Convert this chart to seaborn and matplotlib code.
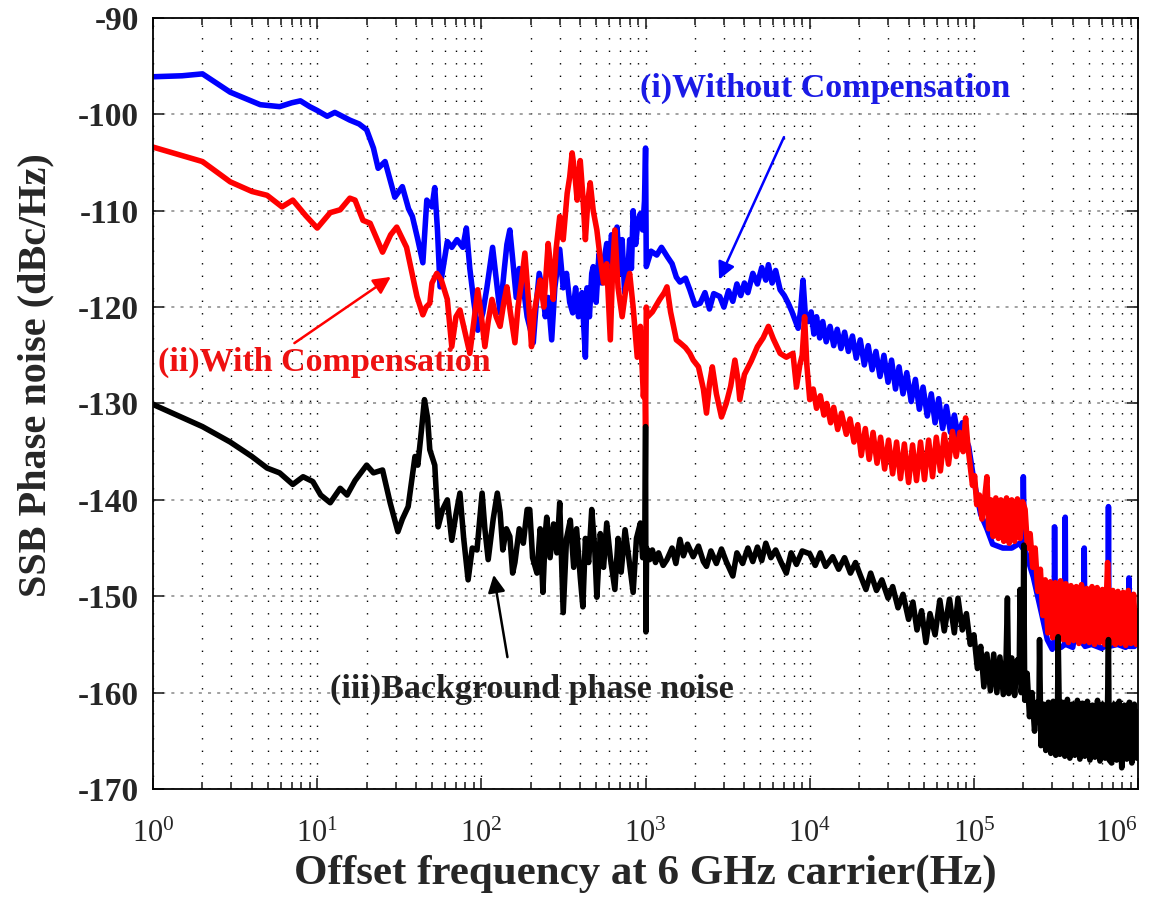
import matplotlib
matplotlib.use('Agg')
import matplotlib.pyplot as plt
import seaborn as sns
from matplotlib.ticker import LogLocator, LogFormatterMathtext, MultipleLocator

# ── Datos: pares (frecuencia Hz, ruido dBc/Hz) ──
puntos_sin = [
    (1, -96.1), (1.5, -96.0), (2, -95.8), (2.95, -97.7), (4.5, -99.0), (5.9, -99.2), (7.0, -98.8),
    (7.9, -98.6), (9.0, -99.2), (10, -99.6), (11.5, -100.2), (12.8, -99.8), (15.8, -100.6),
    (18, -101.0), (20, -101.6), (22, -103.5), (23.5, -105.6), (25.9, -104.9), (29.7, -108.6),
    (33, -107.5), (36, -109.8), (38, -110.6), (41, -113), (44, -115.4), (46.5, -108.9),
    (50, -109.6), (52, -107.6), (54, -112), (56, -117.9), (62, -113.2), (66, -113.8), (71, -113),
    (77, -113.8), (81, -111.8), (85, -116), (90, -119.5), (95, -122.4), (102, -120.6), (108, -118),
    (117, -113.8), (123, -117), (130, -120.6), (138, -116), (143, -113.5), (149, -112), (155, -115),
    (163, -119), (170, -116), (180, -117.9), (190, -121), (200, -122.5), (207, -123.7), (215, -120),
    (225, -116.5), (237, -118.5), (245, -121), (255, -119), (268, -123.4), (280, -118), (290, -116),
    (300, -114), (315, -118), (330, -116.5), (345, -119.5), (360, -120.6), (375, -118), (390, -121),
    (410, -118.5), (430, -125.2), (440, -118), (455, -121), (470, -116.5), (480, -115.8),
    (500, -119.5), (520, -114.5), (540, -117.5), (560, -115), (580, -113.4), (600, -116),
    (620, -112.5), (640, -115), (670, -111.7), (700, -116.5), (720, -113), (745, -118.5),
    (770, -117.9), (800, -113), (820, -116), (840, -110), (870, -113.5), (900, -111), (930, -110.3),
    (960, -112), (985, -109), (1000, -103.5), (1010, -115.8), (1080, -114.2), (1170, -114.6),
    (1250, -113.8), (1360, -114.8), (1450, -115.5), (1540, -116.9), (1620, -117.4), (1750, -117),
    (1860, -118.2), (2000, -119.8), (2150, -119.6), (2300, -118.5), (2450, -120.2), (2600, -118.6),
    (2830, -118.9), (3000, -120), (3200, -118.3), (3400, -119.4), (3600, -117.6), (3800, -118.8),
    (4000, -117.5), (4200, -118.5), (4500, -116.5), (4800, -117.6), (5100, -115.9), (5400, -117.2),
    (5600, -115.6), (5900, -117.5), (6200, -116.2), (6600, -118.2), (7000, -118.8), (7400, -119.6),
    (7800, -120.5), (8200, -121.5), (8500, -122.2), (8800, -120.3), (9100, -117.2), (9400, -120.8),
    (9800, -121.5), (10200, -120.5), (10600, -122.8), (11000, -121), (11500, -123.2),
    (12000, -121.5), (12600, -123.6), (13300, -122), (14000, -124), (14700, -122.3), (15500, -124.3),
    (16300, -122.6), (17200, -124.6), (18200, -123), (19200, -125.3), (20300, -123.4),
    (21500, -126), (22700, -124), (24000, -126.5), (25300, -124.6), (26800, -127.2), (28300, -125),
    (30000, -127.8), (31500, -125.5), (33300, -128.5), (35000, -126.2), (37000, -129),
    (39000, -126.8), (41500, -129.8), (44000, -127.5), (46500, -130.6), (49000, -128.3),
    (52000, -131.3), (55000, -129), (58000, -132), (61000, -129.5), (64500, -132.6),
    (68000, -130.3), (72000, -133), (76000, -131.2), (80000, -133.4), (85000, -132),
    (89000, -133.6), (93000, -134.5), (97000, -136.5), (100000, -138), (110000, -141.5),
    (120000, -143), (130000, -144.6), (150000, -145), (170000, -145), (190000, -144.5),
    (198000, -145), (200000, -137.6), (203000, -145), (230000, -148), (260000, -152),
    (280000, -154.5), (300000, -155.5), (308000, -155), (310000, -142.8), (313000, -155),
    (340000, -155.3), (357000, -155), (360000, -141.8), (363000, -155), (400000, -155.3),
    (440000, -151), (465000, -155), (470000, -145), (475000, -155.2), (520000, -155),
    (600000, -155.4), (655000, -155), (660000, -140.7), (665000, -155.2), (750000, -155),
    (840000, -155.3), (875000, -155), (880000, -148.1), (885000, -155.2), (950000, -155.2),
    (1000000, -154),
]

puntos_con = [
    (1, -103.4), (2, -104.9), (2.95, -107), (4, -108), (4.95, -108.4), (6.1, -109.6), (7.1, -108.9),
    (8.5, -110.5), (10, -111.8), (12, -110.2), (13.8, -109.9), (15.8, -108.7), (17, -108.9),
    (19, -111), (21, -111.3), (25, -114.3), (28, -112.5), (30.5, -111.7), (35, -113.8),
    (40.5, -118.9), (44, -120.8), (46, -120), (48.5, -119.6), (50, -117.5), (53.5, -116.5),
    (57, -117.2), (62, -119.2), (66, -124.1), (70, -121), (74, -120.3), (78, -122), (85, -124.8),
    (90, -121.5), (95, -118.2), (100, -121), (105, -124.1), (110, -121.5), (116, -119.2),
    (123, -121), (130, -122), (137, -119.5), (143, -117.9), (150, -120.5), (160, -123.7),
    (167, -120), (175, -117.5), (184, -114.4), (193, -119), (202, -124.1), (210, -120.5),
    (220, -118.5), (228, -117.2), (240, -120), (255, -113.4), (265, -116), (274, -119.2),
    (285, -114), (300, -110.6), (315, -113), (333, -108.2), (345, -106.5), (357, -104),
    (370, -106), (383, -108.9), (392, -106.5), (400, -104.8), (415, -108.5), (430, -113),
    (445, -109), (460, -107.1), (480, -110), (505, -112), (530, -115), (555, -117.5),
    (580, -115.5), (610, -123.4), (630, -116), (650, -112), (680, -118), (720, -121), (760, -118),
    (800, -116.5), (840, -120), (890, -125.2), (930, -122), (970, -129.3), (990, -127),
    (1000, -132.4), (1010, -120), (1030, -121), (1100, -120.5), (1220, -119.2), (1300, -118.5),
    (1350, -117.9), (1420, -120.5), (1540, -123.4), (1620, -123.7), (1750, -124.2), (1860, -124.8),
    (1950, -125.5), (2100, -126.2), (2250, -128.5), (2350, -131), (2450, -128), (2550, -126.2),
    (2700, -129), (2900, -131.4), (3100, -130), (3300, -128.2), (3500, -125.5), (3650, -127.5),
    (3750, -129.6), (4000, -127), (4400, -125.6), (4800, -124.1), (5200, -123.2), (5600, -122),
    (6000, -123.3), (6600, -124.8), (7200, -125.2), (7900, -124.8), (8300, -128.3), (8700, -126),
    (9000, -125), (9300, -121), (9600, -126), (10000, -129.6), (10500, -128.5), (11000, -130.5),
    (11600, -129.2), (12200, -131.2), (12700, -130), (13400, -132), (14000, -130.4),
    (14800, -132.7), (15600, -131), (16700, -133.2), (17600, -131.6), (18600, -134),
    (19600, -132.2), (20600, -135.4), (21800, -132.6), (23000, -135.8), (24300, -133),
    (25700, -136.2), (27000, -133.5), (28600, -136.8), (30200, -133.8), (32000, -137.3),
    (33800, -134), (35700, -137.8), (37700, -134.2), (40000, -138.2), (42300, -134.3),
    (44700, -138), (47300, -134), (50000, -137.9), (53000, -133.8), (56000, -137.6),
    (59000, -133.5), (62500, -137), (66000, -133.2), (70000, -136.3), (74000, -132.9),
    (78000, -135.5), (82000, -133), (86000, -135), (89000, -131.5), (92000, -134.5),
    (95000, -136.5), (98000, -138.5), (101000, -137.5), (104000, -140.5), (108000, -139.5),
    (112000, -142), (116000, -140), (120000, -137.6), (123000, -143), (127000, -140),
    (131000, -143.8), (136000, -139.8), (141000, -144), (146000, -140), (152000, -144.3),
    (158000, -139.8), (164000, -144.5), (170000, -140), (177000, -144.3), (184000, -139.9),
    (191000, -144), (198000, -140.2), (205000, -141), (212000, -145), (220000, -143.5),
    (228000, -147), (236000, -145), (245000, -149.5), (254000, -147.2), (263000, -152),
    (272000, -148.3), (282000, -153.8), (292000, -148.5), (302000, -154.3), (313000, -148.6),
    (325000, -154.6), (337000, -148.4), (350000, -154.5), (363000, -148.7), (376000, -154.8),
    (390000, -148.9), (405000, -154.6), (420000, -149), (436000, -154.9), (452000, -148.8),
    (469000, -154.7), (487000, -149.2), (505000, -154.8), (524000, -149), (543000, -155),
    (563000, -149.1), (584000, -154.8), (606000, -149.3), (628000, -155), (652000, -146.5),
    (676000, -154.9), (701000, -149.4), (727000, -155), (754000, -149.5), (782000, -154.9),
    (811000, -149.6), (841000, -155.1), (872000, -149.4), (905000, -154.9), (939000, -149.8),
    (974000, -155), (1000000, -151.5),
]

puntos_fondo = [
    (1, -130.1), (2, -132.4), (2.95, -134), (4, -135.5), (4.95, -136.7), (5.9, -137.2),
    (7.1, -138.4), (8.2, -137.6), (9.4, -138.1), (10.5, -139.5), (12, -140.3), (13.8, -138.8),
    (15.2, -139.5), (17, -138), (20, -136.4), (22, -137.2), (25, -136.9), (27.8, -140.3),
    (31, -143.3), (33, -142), (35.8, -140.7), (39.4, -135.5), (41, -136.4), (43, -133),
    (45, -129.6), (47, -131.5), (48.5, -134.8), (52, -136.4), (54.5, -142.8), (58, -141),
    (62, -140), (66, -144.2), (70, -141.5), (74, -139.3), (78, -144), (83, -148.3), (88, -145),
    (94, -145.2), (101, -139.3), (105, -143), (110, -146.2), (118, -142), (125, -139.3),
    (130, -141.3), (135, -145.2), (142, -143), (149, -143.8), (155, -147.6), (160, -146.5),
    (170, -143), (180, -144.5), (190, -141), (197, -141), (205, -146), (218, -147.6), (228, -143),
    (237, -149.6), (245, -143.5), (250, -141.8), (262, -146), (275, -142.5), (288, -145.5),
    (300, -140.3), (315, -151.7), (330, -144), (348, -142.1), (365, -147), (380, -143),
    (400, -148), (415, -151.1), (430, -144), (450, -146.5), (470, -141), (490, -145),
    (505, -150.1), (530, -143.5), (555, -147), (580, -142.4), (610, -146), (650, -149.3),
    (680, -144), (710, -147.5), (750, -143.1), (790, -146), (840, -149.6), (880, -144),
    (930, -142.4), (960, -146), (990, -144), (1000, -132.4), (1005, -153.7), (1015, -145),
    (1060, -146.2), (1100, -145.2), (1150, -146.5), (1200, -145.5), (1280, -146.8),
    (1350, -146.2), (1450, -145), (1530, -146.6), (1620, -144.1), (1700, -145.8), (1800, -144.6),
    (1950, -145.9), (2100, -144.8), (2250, -146.4), (2350, -146.9), (2500, -145.3),
    (2700, -146.6), (2900, -145.1), (3100, -146.4), (3400, -147.9), (3600, -145.5),
    (3900, -146.6), (4200, -145), (4500, -146.4), (4800, -144.9), (5100, -146.3), (5400, -144.5),
    (5800, -146), (6200, -145.2), (6700, -146.5), (7200, -147.6), (7700, -145.5), (8300, -146.7),
    (9000, -145.3), (10000, -145.6), (10800, -146.8), (11600, -145.5), (12500, -146.9),
    (13800, -145.9), (15000, -147.2), (16300, -146), (17700, -147.6), (19000, -146.5),
    (20300, -147.8), (22000, -149.3), (23500, -147.6), (25500, -149.4), (27500, -148.3),
    (30000, -150.2), (32000, -149), (34500, -151.2), (37000, -149.8), (40000, -152.4),
    (42500, -150.6), (45000, -153.5), (48000, -151.5), (51000, -154.8), (54000, -151.8),
    (58000, -154), (62000, -150.4), (66000, -153.6), (71000, -150.3), (76000, -153.8),
    (80000, -150.2), (85000, -153.5), (90000, -151.8), (95000, -155), (100000, -154),
    (105000, -157.5), (110000, -155.2), (115000, -159.4), (120000, -156), (126000, -159.8),
    (132000, -156), (138000, -160), (144000, -156.3), (151000, -160.2), (157000, -156.5),
    (160000, -150.2), (163000, -160.1), (170000, -156.4), (177000, -160.3), (184000, -156.6),
    (189000, -157), (191000, -149.3), (194000, -160), (199000, -158), (201000, -144.7),
    (204000, -160.8), (211000, -158), (218000, -162.5), (226000, -160), (234000, -164),
    (242000, -161), (249000, -161.5), (251000, -154.5), (256000, -165.5), (265000, -161.2),
    (274000, -166), (284000, -161), (294000, -166.3), (304000, -160.9), (315000, -166.5),
    (323000, -162), (326000, -154.2), (334000, -166.4), (346000, -161), (358000, -166.6),
    (371000, -160.7), (384000, -166.8), (398000, -161.2), (412000, -166.5), (427000, -160.8),
    (442000, -166.9), (458000, -161.1), (474000, -166.6), (491000, -160.9), (509000, -167),
    (527000, -161.3), (546000, -166.7), (566000, -160.8), (586000, -167.1), (607000, -161.2),
    (629000, -166.8), (652000, -161), (660000, -154.5), (668000, -167), (690000, -167.3),
    (715000, -161.2), (740000, -167), (767000, -160.9), (795000, -167.8), (823000, -161.3),
    (853000, -166.9), (884000, -161), (916000, -167.3), (949000, -161.2), (983000, -166.8),
    (1000000, -162),
]

decadas = [1, 10, 100, 1000, 10000, 100000, 1000000]
etiquetas = ['(i)Without Compensation', '(ii)With Compensation', '(iii)Background phase noise']
colores = ['#0000ff', '#ff0000', 'black']

# ── Estilo ────────────────────────────────────────────────
sns.set_style('ticks')
plt.rcParams['font.family'] = ['Liberation Serif', 'DejaVu Serif']
plt.rcParams['mathtext.fontset'] = 'stix'
plt.rcParams['axes.unicode_minus'] = False

fig = plt.figure(figsize=(11.56, 9.07), dpi=100)
ax = fig.add_axes([0.1324, 0.1301, 0.8521, 0.8501])

for puntos, color in zip([puntos_sin, puntos_con, puntos_fondo], colores):
    f, r = zip(*puntos)
    sns.lineplot(x=list(f), y=list(r), color=color, lw=4.0, estimator=None, sort=False, ax=ax)

ax.set_xscale('log')
ax.set_xticks(decadas)
ax.xaxis.set_minor_locator(LogLocator(base=10, subs=range(2, 10), numticks=100))
ax.xaxis.set_major_formatter(LogFormatterMathtext())
ax.yaxis.set_major_locator(MultipleLocator(10))
ax.set_xlim(1, 1e6)
ax.set_ylim(-170, -90)

# rejilla punteada estilo MATLAB
ax.grid(True, which='both', axis='x', ls=(0, (1, 8)), color='black', lw=1.0)
ax.grid(True, which='major', axis='y', ls=(0, (2, 4)), color='#888888', lw=1.1)
ax.set_axisbelow(True)

ax.tick_params(which='both', direction='in', top=True, right=True, width=1.2)
ax.tick_params(which='major', length=8)
ax.tick_params(which='minor', length=5)
ax.tick_params(axis='y', labelsize=24, pad=10)
ax.tick_params(axis='x', labelsize=22, pad=22)
for lab in ax.get_yticklabels():
    lab.set_fontweight('bold')
# la última etiqueta (10^6) queda pegada al borde derecho
ax.xaxis.get_major_ticks()[-1].label1.set_horizontalalignment('right')
for s in ax.spines.values():
    s.set_linewidth(1.3)
    s.set_color('black')

ax.set_xlabel('Offset frequency at 6 GHz carrier(Hz)', fontsize=31, fontweight='bold', labelpad=4)
ax.set_ylabel('SSB Phase noise (dBc/Hz)', fontsize=29, fontweight='bold')
ax.yaxis.set_label_coords(-0.10, 0.537)

# ── Anotaciones ───────────────────────────────────────────
ax.annotate('', xy=(2760, -117.4), xytext=(7080, -102.1),
            arrowprops=dict(arrowstyle='-|>', color='#0000ff', lw=1.8, mutation_scale=26))
ax.text(925, -97.3, etiquetas[0], color='#1a1ae6', fontsize=24.5, fontweight='bold',
        ha='left', va='center')

ax.annotate('', xy=(29, -116.7), xytext=(7.03, -123.9),
            arrowprops=dict(arrowstyle='-|>', color='#ff0000', lw=1.8, mutation_scale=26))
ax.text(1.07, -125.7, etiquetas[1], color='#ee1111', fontsize=24.5, fontweight='bold',
        ha='left', va='center')

ax.annotate('', xy=(118, -147.5), xytext=(145, -156.6),
            arrowprops=dict(arrowstyle='-|>', color='black', lw=1.8, mutation_scale=26))
ax.text(12, -159.7, etiquetas[2], color='#222222', fontsize=24.5, fontweight='bold',
        ha='left', va='center')

fig.savefig('out.png', dpi=100)
plt.close(fig)
